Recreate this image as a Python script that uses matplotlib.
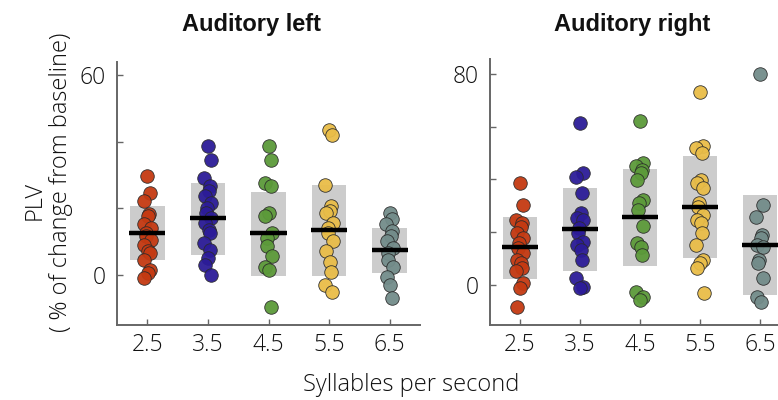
import numpy as np
import matplotlib
matplotlib.use("Agg")
import matplotlib.pyplot as plt

plt.rcParams['font.family'] = ['Open Sans', 'Liberation Sans', 'DejaVu Sans']

rates = [2.5, 3.5, 4.5, 5.5, 6.5]
rate_labels = ["2.5", "3.5", "4.5", "5.5", "6.5"]
colors = ["#c43a12", "#2c1c98", "#5c9a3a", "#e9bd48", "#738c8a"]

# Auditory left: PLV change per subject (%)
left_25 = [29.8, 24.7, 22.2, 18.2, 17.7, 15.2, 14.1, 12.6, 11.6, 10.6, 9.1, 7.1, 6.6, 4.5, 1.5, 0.5, -1.0]
left_35 = [38.7, 34.6, 29.3, 26.8, 25.3, 23.7, 21.7, 20.2, 18.7, 17.2, 15.7, 13.6, 12.6, 9.6, 7.6, 5.1, 3.0, 0.0]
left_45 = [38.7, 34.6, 27.6, 26.8, 18.7, 17.7, 12.6, 11.1, 8.6, 5.6, 2.5, 1.5, -9.6]
left_55 = [43.7, 42.1, 27.0, 20.7, 19.2, 18.5, 15.7, 14.1, 12.6, 10.1, 7.1, 4.0, 1.0, -3.0, -5.0]
left_65 = [18.5, 16.9, 15.2, 13.1, 11.6, 10.1, 8.1, 6.6, 4.5, 2.5, -0.5, -3.0, -6.8]
left_mean = [12.6, 17.0, 12.6, 13.4, 7.4]
left_lo = [4.5, 6.1, -0.2, -0.2, 0.7]
left_hi = [20.7, 27.6, 25.0, 27.0, 14.1]

# Auditory right: PLV change per subject (%)
right_25 = [38.8, 30.3, 24.7, 23.4, 22.1, 19.6, 17.7, 15.8, 13.9, 12.0, 9.5, 8.2, 6.3, 5.1, 0.6, -1.3, -8.2]
right_35 = [61.3, 42.6, 41.1, 34.8, 27.2, 25.3, 24.7, 21.5, 19.6, 16.4, 15.2, 13.3, 9.5, 2.5, -0.6, -1.3]
right_45 = [62.2, 46.1, 45.1, 43.6, 42.4, 39.8, 32.2, 31.0, 28.4, 22.4, 15.8, 14.5, 11.4, -2.5, -4.4, -5.7]
right_55 = [73.1, 52.7, 51.8, 49.9, 39.8, 38.6, 36.7, 31.0, 29.7, 26.5, 24.7, 23.4, 19.6, 15.2, 9.5, 8.2, 6.3, -2.9]
right_65 = [80.0, 30.3, 25.9, 19.0, 17.7, 15.2, 14.5, 9.5, 8.2, 2.5, -4.4, -6.3]
right_mean = [14.3, 21.1, 25.7, 29.7, 15.2]
right_lo = [2.3, 5.1, 7.0, 10.4, -3.8]
right_hi = [25.9, 36.9, 44.1, 48.9, 34.1]

W, H = 778, 400
fig = plt.figure(figsize=(W / 100, H / 100), dpi=100)

light = dict(fontweight="light", color="#111111")


def panel(rect, groups, means, los, his, ylim, yticks, ylabels):
    ax = fig.add_axes(rect)
    for i, (x, vals) in enumerate(zip(rates, groups)):
        ax.bar(x, his[i] - los[i], bottom=los[i], width=0.57,
               color="#cccccc", edgecolor="none", zorder=1)
        n = len(vals)
        offs = 0.06 * np.sin(np.arange(n) * 2.3)
        ax.scatter(x + offs, vals, s=95, color=colors[i],
                   edgecolor="#2a2a2a", linewidth=0.6, zorder=3, alpha=0.95)
        ax.plot([x - 0.3, x + 0.3], [means[i], means[i]], color="black",
                lw=3.2, solid_capstyle="butt", zorder=4)
    ax.set_xlim(2.0, 7.0)
    ax.set_ylim(*ylim)
    ax.set_xticks(rates)
    ax.set_xticklabels(rate_labels, fontsize=16.5, **light)
    ax.set_yticks(yticks)
    ax.set_yticklabels(ylabels, fontsize=16.5, **light)
    for s in ["top", "right"]:
        ax.spines[s].set_visible(False)
    for s in ["left", "bottom"]:
        ax.spines[s].set_color("#666666")
        ax.spines[s].set_linewidth(1.4)
    ax.tick_params(axis="both", direction="in", length=4, width=1.0,
                   color="#666666")
    ax.tick_params(axis="x", pad=6)
    ax.tick_params(axis="y", pad=8)
    return ax


panel([117 / W, 75 / H, 303 / W, 263 / H],
      [left_25, left_35, left_45, left_55, left_65],
      left_mean, left_lo, left_hi, (-15.0, 64.0),
      [0, 20, 40, 60], ["0", "", "", "60"])

panel([490 / W, 75 / H, 300 / W, 266 / H],
      [right_25, right_35, right_45, right_55, right_65],
      right_mean, right_lo, right_hi, (-15.2, 85.7),
      [0, 20, 40, 60, 80], ["0", "", "", "", "80"])

title_font = dict(ha="center", va="center", fontsize=17, fontweight="bold",
                  color="#111111", family=['Liberation Sans', 'DejaVu Sans'])
fig.text(252 / W, 1 - 25 / H, "Auditory left", **title_font)
fig.text(632 / W, 1 - 25 / H, "Auditory right", **title_font)

fig.text(411 / W, 1 - 385 / H, "Syllables per second", ha="center",
         va="center", fontsize=17, **light)
fig.text(35 / W, 1 - 200 / H, "PLV", rotation=90, ha="center", va="center",
         fontsize=17, **light)
fig.text(61 / W, 1 - 182 / H, "( % of change from baseline)", rotation=90,
         ha="center", va="center", fontsize=17, **light)

fig.savefig("out.png", dpi=100)
